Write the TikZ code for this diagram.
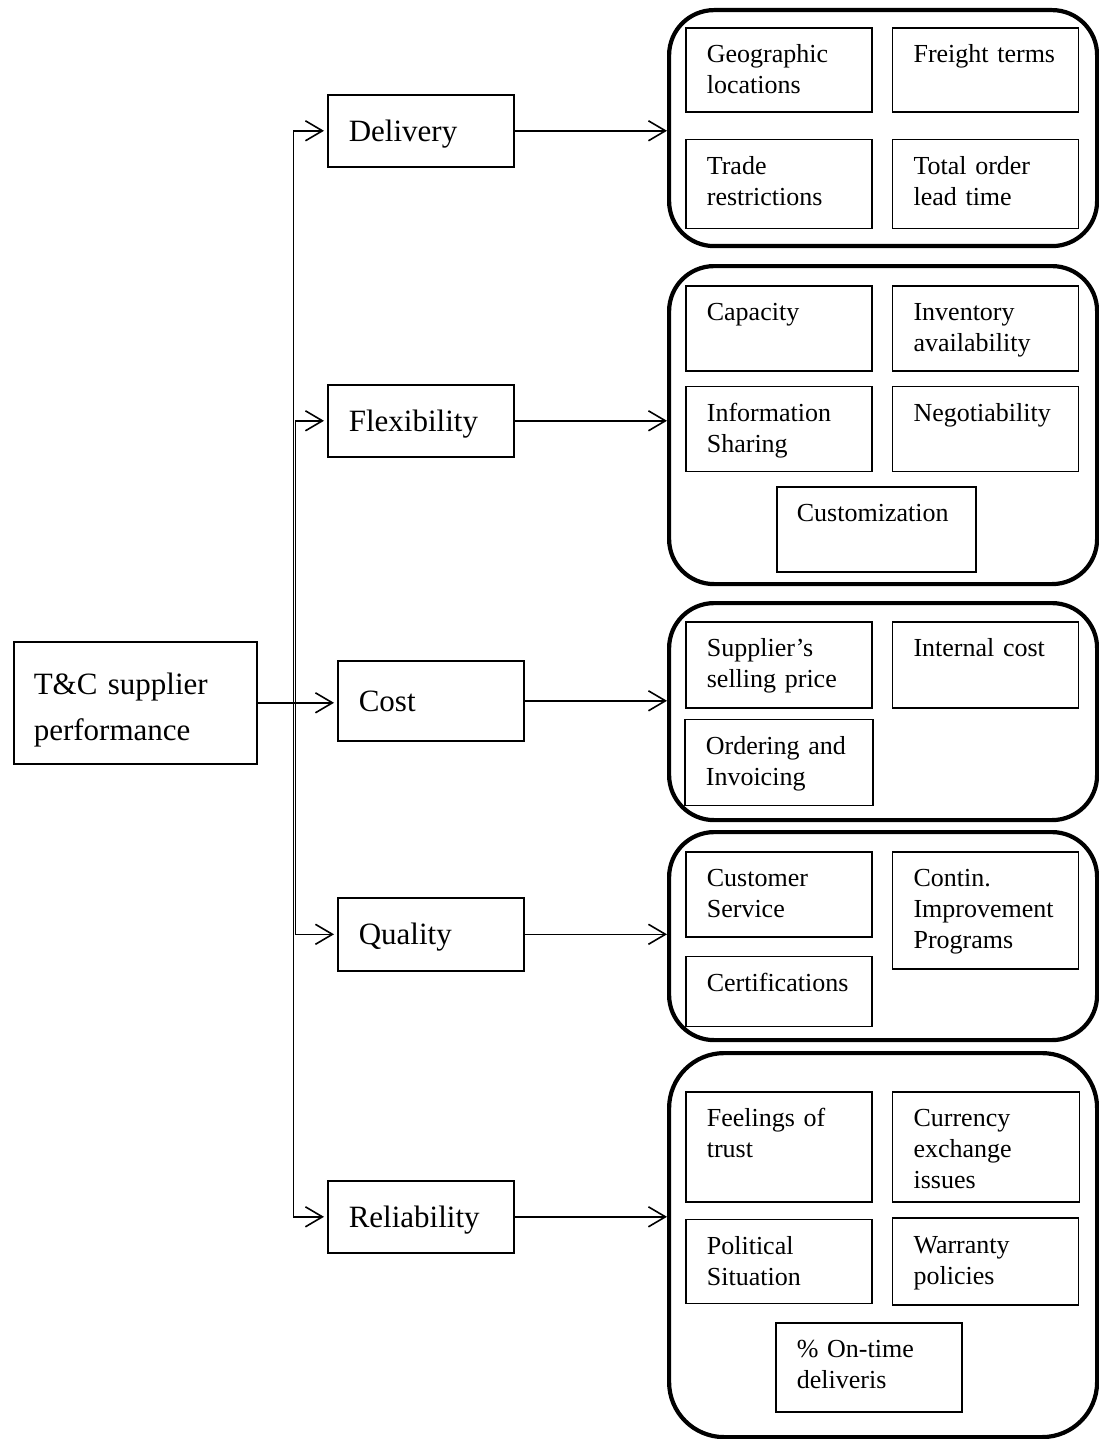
\documentclass[tikz,border=0pt]{standalone}
\usepackage{fontspec}
\setmainfont{Liberation Serif}
\usetikzlibrary{arrows.meta,positioning}

\begin{document}
\begin{tikzpicture}[x=1pt, y=-1pt,
  rootbox/.style={draw, line width=1.6pt, anchor=north west, text width=203pt, inner xsep=20pt, minimum height=122pt, align=left, text height=21pt, text depth=38pt, font=\fontsize{31}{46}\selectfont},
  crit/.style={draw, line width=1.6pt, anchor=north west, text width=144pt, inner xsep=21pt, inner ysep=0pt, minimum height=72pt, align=left, text height=21pt, text depth=0pt, font=\fontsize{31}{36}\selectfont},
  groupbox/.style={draw, line width=4.2pt, rounded corners=45pt, anchor=north west, minimum width=428pt, inner sep=0pt},
  factor/.style={draw, line width=1.7pt, text width=144pt, inner xsep=21pt, inner ysep=0pt, align=left, text height=35pt, text depth=#1, font=\fontsize{26}{31}\selectfont},
  factor/.default=50pt,
  arr/.style={-{Straight Barb[length=17pt,width=20pt]}, line width=1.6pt}
]
\useasboundingbox (0,0) rectangle (1098,1439);

% groups of sub-criteria
\node[groupbox, minimum height=236pt] (g1) at (667,8) {};
\node[groupbox, minimum height=318pt] (g2) at (667,264) {};
\node[groupbox, minimum height=217pt] (g3) at (667,601) {};
\node[groupbox, minimum height=208pt] (g4) at (667,830) {};
\node[groupbox, minimum height=384pt, rounded corners=55pt] (g5) at (667,1051) {};

% main criteria
\node[rootbox] (root) at (13,641) {T\&C supplier\\performance};
\node[crit] (del) at (327,94) {Delivery};
\node[crit] (flex) at (327,384) {Flexibility};
\node[crit, minimum height=80pt] (cost) at (337,660) {Cost};
\node[crit, minimum height=73pt] (qual) at (337,897) {Quality};
\node[crit] (rel) at (327,1180) {Reliability};

% delivery
\node[factor=49pt, anchor=north west] (geo) at (685,27) {Geographic\\locations};
\node[factor=49pt, right=19pt of geo] (freight) {Freight terms};
\node[factor=54pt, below=26pt of geo] (trade) {Trade\\restrictions};
\node[factor=54pt, right=19pt of trade] (lead) {Total order\\lead time};

% flexibility
\node[factor, anchor=north west] (capa) at (685,285) {Capacity};
\node[factor, right=19pt of capa] (inv) {Inventory\\availability};
\node[factor, below=14pt of capa] (info) {Information\\Sharing};
\node[factor, right=19pt of info] (nego) {Negotiability};
\node[factor, text width=159pt, inner xsep=20pt, anchor=north west] (custom) at (776,486) {Customization};

% cost
\node[factor=51pt, anchor=north west] (sell) at (685,621) {Supplier’s\\selling price};
\node[factor=51pt, right=19pt of sell] (intc) {Internal cost};
\node[factor=51pt, text width=146pt, below=10pt of sell] (order) {Ordering and\\Invoicing};

% quality
\node[factor, anchor=north west] (cserv) at (685,851) {Customer\\Service};
\node[factor=82pt, right=19pt of cserv.north east, anchor=north west] (contin) {Contin.\\Improvement\\Programs};
\node[factor=35pt, below=18pt of cserv] (cert) {Certifications};

% reliability
\node[factor=75pt, anchor=north west] (trust) at (685,1091) {Feelings of\\trust};
\node[factor=75pt, text width=145pt, right=19pt of trust] (curr) {Currency\\exchange\\issues};
\node[factor=49pt, below=16pt of trust] (polit) {Political\\Situation};
\node[factor=52pt, right=19pt of polit] (warr) {Warranty\\policies};
\node[factor=54pt, anchor=north west] (ontime) at (775,1322) {\% On-time\\deliveris};

% connectors
\draw[arr, shorten >=3pt] (root.east) -- (root.east -| cost.west);
\draw[arr, shorten >=3pt] (root.east) -- ++(36,0) |- (del.west);
\draw[arr, shorten >=3pt] (root.east) -- ++(38,0) |- (flex.west);
\draw[arr, shorten >=3pt] (root.east) -- ++(38,0) |- (qual.west);
\draw[arr, shorten >=3pt] (root.east) -- ++(36,0) |- (rel.west);
\draw[arr] (del.east) -- (del.east -| g1.west);
\draw[arr] (flex.east) -- (flex.east -| g2.west);
\draw[arr] (cost.east) -- (cost.east -| g3.west);
\draw[arr] (qual.east) -- (qual.east -| g4.west);
\draw[arr] (rel.east) -- (rel.east -| g5.west);
\end{tikzpicture}
\end{document}
